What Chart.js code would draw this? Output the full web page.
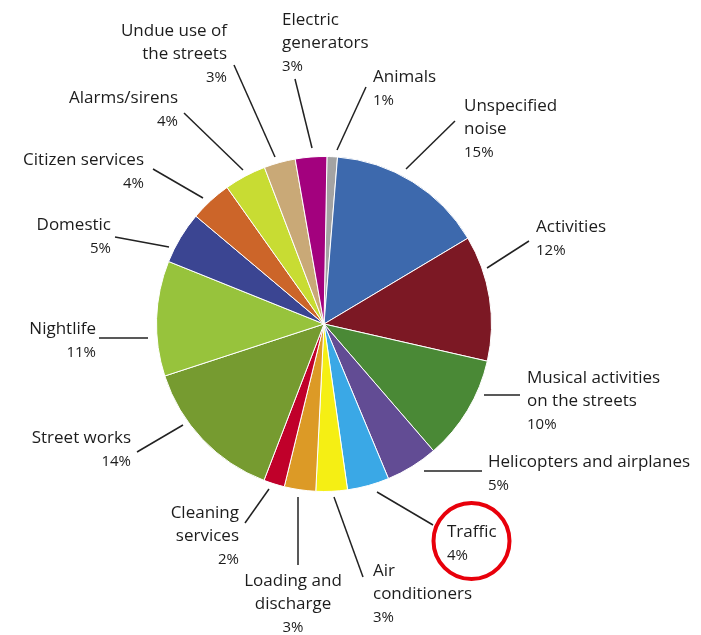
<!DOCTYPE html>
<html>
<head>
<meta charset="utf-8">
<script src="https://cdn.jsdelivr.net/npm/chart.js@4/dist/chart.umd.min.js"></script>
<style>
  html, body { margin: 0; padding: 0; background: #fff; }
  #wrap { width: 701px; height: 635px; position: relative; }
</style>
</head>
<body>
<div id="wrap"><canvas id="pieChart"></canvas></div>
<script>
// DATA
const categories = [
  "Animals", "Unspecified noise", "Activities", "Musical activities on the streets",
  "Helicopters and airplanes", "Traffic", "Air conditioners", "Loading and discharge",
  "Cleaning services", "Street works", "Nightlife", "Domestic",
  "Citizen services", "Alarms/sirens", "Undue use of the streets", "Electric generators",
];
const shares = [1, 15, 12, 10, 5, 4, 3, 3, 2, 14, 11, 5, 4, 4, 3, 3];
const sliceColors = [
  "#a3a3a3", "#3d69ad", "#7c1824", "#4a8936",
  "#624c94", "#3aa8e6", "#f5ef14", "#dc9a26",
  "#c0002a", "#769b30", "#97c33c", "#3b4592",
  "#cc6529", "#c8dc33", "#c9a977", "#a3017e",
];
// how each label is split over lines
const labelLines = [
  ["Animals"], ["Unspecified", "noise"], ["Activities"], ["Musical activities", "on the streets"],
  ["Helicopters and airplanes"], ["Traffic"], ["Air", "conditioners"], ["Loading and", "discharge"],
  ["Cleaning", "services"], ["Street works"], ["Nightlife"], ["Domestic"],
  ["Citizen services"], ["Alarms/sirens"], ["Undue use of", "the streets"], ["Electric", "generators"],
];

// LABEL LAYOUT (text anchor, first baseline, leader line)
const labelPos = [
  { align: "left",   x: 373, y: 82,  line: [366, 87, 337, 150] },
  { align: "left",   x: 464, y: 111, line: [455, 121, 406, 169] },
  { align: "left",   x: 536, y: 232, line: [529, 241, 487, 268] },
  { align: "left",   x: 527, y: 383, line: [520, 395, 484, 395] },
  { align: "left",   x: 488, y: 467, line: [482, 471, 424, 471] },
  { align: "left",   x: 447, y: 537, line: [433, 525, 377, 492] },
  { align: "left",   x: 373, y: 576, line: [363, 577, 334, 497] },
  { align: "center", x: 293, y: 586, line: [298, 565, 298, 497] },
  { align: "right",  x: 239, y: 518, line: [245, 523, 269, 489] },
  { align: "right",  x: 131, y: 443, line: [137, 452, 183, 425] },
  { align: "right",  x: 96,  y: 334, line: [99, 338, 148, 338] },
  { align: "right",  x: 111, y: 230, line: [115, 237, 169, 247] },
  { align: "right",  x: 144, y: 165, line: [153, 169, 203, 198] },
  { align: "right",  x: 178, y: 103, line: [184, 113, 243, 170] },
  { align: "right",  x: 227, y: 36,  line: [234, 65, 275, 157] },
  { align: "left",   x: 282, y: 25,  line: [295, 79, 312, 148] },
];
const highlighted = "Traffic";

// LABELS PLUGIN
const pieLabels = {
  id: "pieLabels",
  afterDraw(chart) {
    const { ctx } = chart;
    ctx.save();
    ctx.strokeStyle = "#222";
    ctx.lineWidth = 1.5;
    ctx.fillStyle = "#1c1c1c";
    ctx.textBaseline = "alphabetic";

    categories.forEach((cat, i) => {
      const p = labelPos[i];
      const [x1, y1, x2, y2] = p.line;
      ctx.beginPath();
      ctx.moveTo(x1, y1);
      ctx.lineTo(x2, y2);
      ctx.stroke();

      ctx.textAlign = p.align;
      let y = p.y;
      ctx.font = "17px 'Open Sans'";
      labelLines[i].forEach((t) => {
        ctx.fillText(t, p.x, y);
        y += 23;
      });
      ctx.font = "15px 'Open Sans'";
      ctx.fillText(shares[i] + "%", p.x, y);

      if (cat === highlighted) {
        ctx.beginPath();
        ctx.strokeStyle = "#e8000b";
        ctx.lineWidth = 4;
        ctx.arc(p.x + 24.5, p.y + 4, 38, 0, Math.PI * 2);
        ctx.stroke();
        ctx.strokeStyle = "#222";
        ctx.lineWidth = 1.5;
      }
    });
    ctx.restore();
  },
};

const CHART = document.getElementById("pieChart");
let pieChart = new Chart(CHART, {
  type: "pie",
  data: {
    labels: categories,
    datasets: [
      {
        data: shares,
        backgroundColor: sliceColors,
        borderColor: "#ffffff",
        borderWidth: 1,
      },
    ],
  },
  options: {
    responsive: true,
    maintainAspectRatio: false,
    animation: false,
    rotation: 1,
    layout: {
      padding: { left: 156, right: 209, top: 156, bottom: 143 },
    },
    plugins: {
      legend: { display: false },
      tooltip: { enabled: false },
    },
  },
  plugins: [pieLabels],
});
</script>
</body>
</html>
